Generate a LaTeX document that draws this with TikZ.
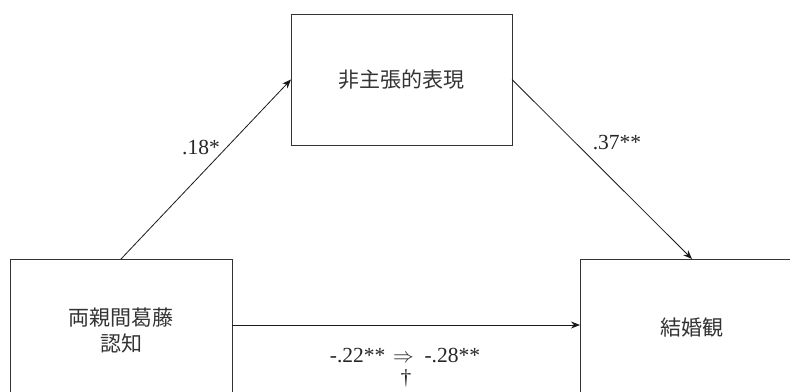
\documentclass[tikz,border=0pt]{standalone}
\usepackage{fontspec}
\setmainfont{Liberation Serif}
\newfontfamily\cjk{Noto Sans CJK JP}
\usetikzlibrary{arrows.meta}
\tikzset{
  box/.style={draw=black!80, line width=1pt, outer sep=0pt, inner sep=0pt, text=black!80, font=\cjk\fontsize{21}{26}\selectfont, align=center},
  conn/.style={draw=black!90, line width=0.8pt, -{Stealth[length=9pt,width=7pt]}},
  lbl/.style={text=black!85, font=\fontsize{21.5}{24}\selectfont, inner sep=0pt}
}
\begin{document}
\begin{tikzpicture}[x=1pt,y=-1pt]
\useasboundingbox (0,0) rectangle (790,391);
\clip (0,0) rectangle (790,391);
\node[box, minimum width=222pt, minimum height=142pt] (L) at (121,330) {両親間葛藤\\認知};
\node[box, minimum width=221pt, minimum height=131pt] (M) at (401.5,79.5) {非主張的表現};
\node[box, minimum width=224pt, minimum height=138pt] (R) at (692,328) {結婚観};
\draw[conn] (L.north) -- (M.west);
\draw[conn] (M.east) -- (R.north);
\draw[conn] (L.east |- 0,325) coordinate (a) -- (R.west |- a);
\node[lbl] (l1) at (201,147) {.18*};
\node[lbl] (l2) at (617,143) {.37**};
\node[lbl] (l3) at (405,355) {-.22**\hspace{0.35em}$\Rightarrow$\hspace{0.5em}-.28**};
\node[lbl] (l4) at (406,378) {\textdagger};
\end{tikzpicture}
\end{document}
